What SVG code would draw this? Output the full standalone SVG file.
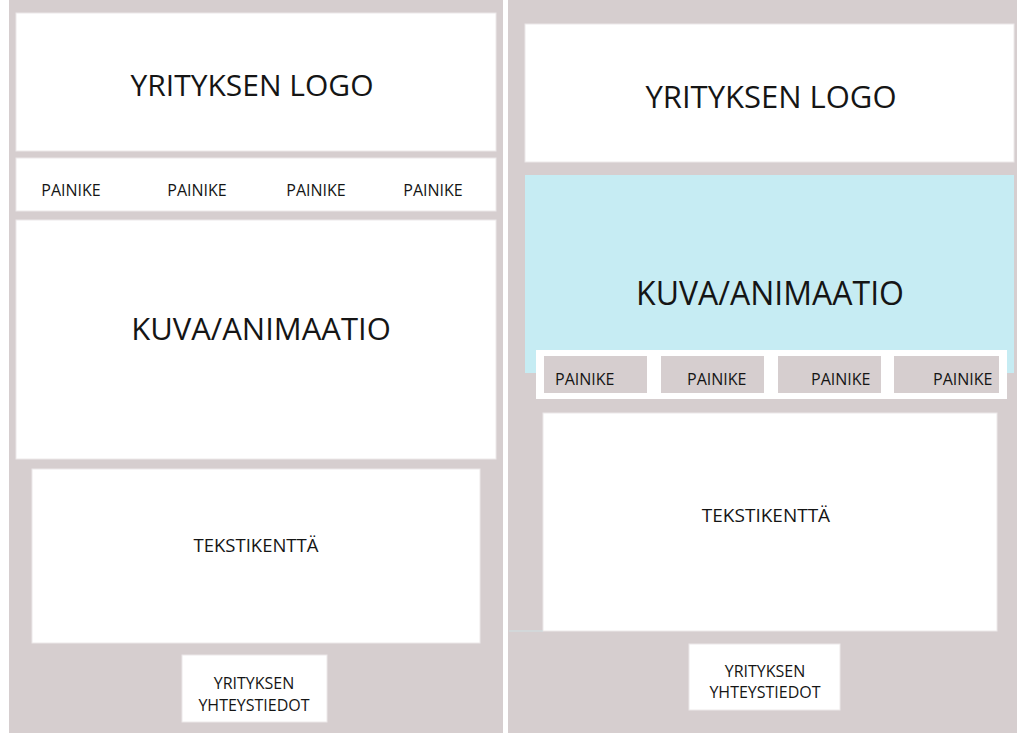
<svg xmlns="http://www.w3.org/2000/svg" width="1017" height="733" viewBox="0 0 1017 733">
  <style>
    .panel { fill: #d6cecf; }
    .box { fill: #ffffff; stroke: #ece8e9; stroke-width: 1; }
    .hero { fill: #c6ecf3; }
    .btn { fill: #d6cecf; }
    text { font-family: "Open Sans", "Liberation Sans", sans-serif; fill: #151515; text-anchor: middle; }
    .big { font-size: 31px; }
    .mid { font-size: 18.5px; }
    .small { font-size: 16px; }
    .lead { text-anchor: start; font-size: 16px; }
  </style>

  <rect x="0" y="0" width="1017" height="733" fill="#ffffff"/>

  <!-- Desktop layout -->
  <g id="desktop">
    <rect class="panel" x="9" y="0" width="494" height="733"/>
    <g id="d-logo">
      <rect class="box" x="16" y="13" width="480" height="138"/>
      <text class="big" x="252" y="96" style="font-size:30px">YRITYKSEN LOGO</text>
    </g>
    <g id="d-nav">
      <rect class="box" x="16" y="158" width="480" height="53"/>
      <text class="small" x="71" y="196">PAINIKE</text>
      <text class="small" x="197" y="196">PAINIKE</text>
      <text class="small" x="316" y="196">PAINIKE</text>
      <text class="small" x="433" y="196">PAINIKE</text>
    </g>
    <g id="d-media">
      <rect class="box" x="16" y="220" width="480" height="239"/>
      <text class="big" x="261" y="340">KUVA/ANIMAATIO</text>
    </g>
    <g id="d-text">
      <rect class="box" x="32" y="469" width="448" height="174"/>
      <text class="mid" x="256" y="552">TEKSTIKENTTÄ</text>
    </g>
    <g id="d-contact">
      <rect class="box" x="182" y="655" width="145" height="67"/>
      <text class="small" x="254" y="689">YRITYKSEN</text>
      <text class="small" x="254" y="711">YHTEYSTIEDOT</text>
    </g>
  </g>

  <!-- Mobile layout -->
  <g id="mobile">
    <rect class="panel" x="508" y="0" width="509" height="733"/>
    <g id="m-logo">
      <rect class="box" x="525" y="24" width="489" height="138"/>
      <text class="big" x="771" y="108">YRITYKSEN LOGO</text>
    </g>
    <g id="m-media">
      <rect class="hero" x="525" y="175" width="489" height="198"/>
      <text class="big" x="770" y="305" style="font-size:32px">KUVA/ANIMAATIO</text>
    </g>
    <g id="m-nav">
      <rect x="536" y="350" width="471" height="49" fill="#ffffff"/>
      <rect class="btn" x="544" y="356" width="103" height="37"/>
      <rect class="btn" x="661" y="356" width="103" height="37"/>
      <rect class="btn" x="778" y="356" width="103" height="37"/>
      <rect class="btn" x="894" y="356" width="105" height="37"/>
      <text class="lead" x="555" y="385">PAINIKE</text>
      <text class="lead" x="687" y="385">PAINIKE</text>
      <text class="lead" x="811" y="385">PAINIKE</text>
      <text class="lead" x="933" y="385">PAINIKE</text>
    </g>
    <g id="m-text">
      <rect class="box" x="543" y="413" width="454" height="218"/>
      <line x1="509" y1="631" x2="543" y2="631" stroke="#d0e0e3" stroke-width="1"/>
      <text class="mid" x="766" y="522" style="font-size:19px">TEKSTIKENTTÄ</text>
    </g>
    <g id="m-contact">
      <rect class="box" x="689" y="644" width="151" height="66"/>
      <text class="small" x="765" y="677">YRITYKSEN</text>
      <text class="small" x="765" y="698">YHTEYSTIEDOT</text>
    </g>
  </g>

  <!-- no connectors in this layout sketch -->
  <g id="connectors"/>
</svg>
